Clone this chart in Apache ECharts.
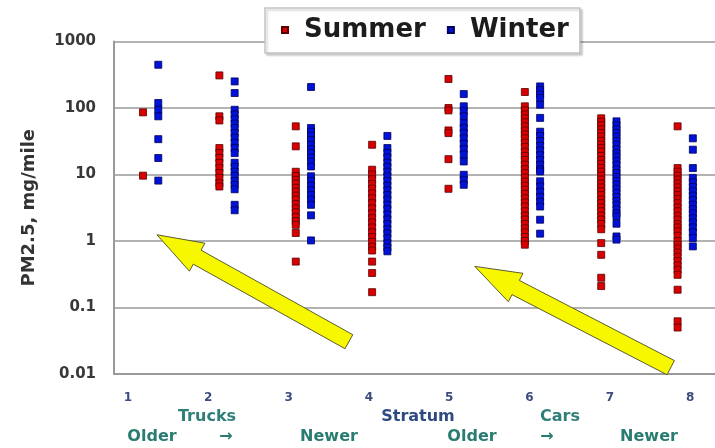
<!DOCTYPE html>
<html>
<head>
<meta charset="utf-8">
<script src="https://cdn.jsdelivr.net/npm/echarts@6/dist/echarts.min.js"></script>
<style>
html,body{margin:0;padding:0;background:#fff;}
#c{width:715px;height:448px;}
</style>
</head>
<body>
<div id="c"></div>
<script>
// ---- data ----
const strata = [1, 2, 3, 4, 5, 6, 7, 8];
const tickLabels = ['1', '2', '3', '4', '5', '6', '7', '8'];
const seriesNames = ['Summer', 'Winter'];
const yTickLabels = ['0.01', '0.1', '1', '10', '100', '1000'];

const summer1 = [86, 9.6];
const winter1 = [447, 119, 94, 75, 34, 17.7, 8.1];
const summer2 = [309, 75, 65, 25, 21, 17.7, 14.9, 12.5, 10.5, 8.9, 7.4, 6.6];
const winter2 = [251, 168, 94, 80, 68, 58, 50, 42, 36, 30, 25, 21, 15, 13, 11, 9.5, 8, 7, 6, 3.5, 2.9];
const summer3 = [53, 26.5, 11, 9.5, 8.3, 7.3, 6.3, 5.5, 4.8, 4.2, 3.6, 3.1, 2.7, 2.3, 2.0, 1.75, 1.32, 0.49];
const winter3 = [207, 50, 44, 38, 33, 28, 24, 21, 18, 15.5, 13.2, 9.4, 8, 6.8, 5.8, 4.9, 4.2, 3.5, 2.43, 1.02];
const summer4 = [28, 11.8, 10, 8.5, 7.2, 6.1, 5.2, 4.4, 3.7, 3.1, 2.6, 2.2, 1.9, 1.6, 1.35, 1.15, 0.97, 0.82, 0.72, 0.49, 0.33, 0.17];
const winter4 = [38, 25, 21, 18, 15, 13, 11, 9.4, 8, 6.8, 5.8, 4.9, 4.2, 3.5, 3.0, 2.5, 2.1, 1.8, 1.5, 1.3, 1.1, 0.92, 0.8, 0.7];
const summer5 = [273, 100, 92, 46, 42, 17, 6.1];
const winter5 = [162, 106, 90, 75, 59, 50, 42, 35, 29, 24, 20, 15.7, 9.9, 8.3, 7.0];
const summer6 = [174, 106, 92, 80, 70, 61, 53, 46, 40, 35, 30, 26, 22, 19, 16.5, 14, 12, 10.5, 9, 7.8, 6.8, 5.9, 5.1, 4.4, 3.8, 3.3, 2.8, 2.4, 2.1, 1.8, 1.55, 1.35, 1.15, 1.0, 0.88];
const winter6 = [211, 185, 160, 141, 112, 71, 44, 38, 32, 27, 23, 19.5, 16.5, 14, 12, 11.1, 7.9, 6.6, 5.5, 4.6, 3.9, 3.3, 2.09, 1.29];
const summer7 = [70, 62, 55, 48, 42, 37, 32, 28, 25, 22, 19, 16.5, 14.5, 12.5, 11, 9.6, 8.4, 7.3, 6.4, 5.6, 4.9, 4.2, 3.7, 3.2, 2.8, 2.4, 2.1, 1.8, 1.5, 0.93, 0.62, 0.28, 0.21];
const winter7 = [63, 55, 48, 42, 37, 32, 28, 24, 21, 18.5, 16, 14, 12, 10.5, 9.2, 8, 7, 6.1, 5.3, 4.6, 4.0, 3.5, 3.0, 2.6, 2.34, 1.82, 1.17, 1.05];
const summer8 = [53, 12.5, 11, 9.6, 8.4, 7.3, 6.4, 5.6, 4.9, 4.3, 3.7, 3.2, 2.8, 2.4, 2.1, 1.8, 1.6, 1.4, 1.2, 1.0, 0.88, 0.77, 0.67, 0.58, 0.5, 0.43, 0.37, 0.31, 0.185, 0.062, 0.05];
const winter8 = [35, 23.6, 12.5, 8.9, 7.6, 6.5, 5.6, 4.8, 4.1, 3.5, 3.0, 2.6, 2.2, 1.9, 1.6, 1.35, 1.11, 0.83];

const summerByStratum = [summer1, summer2, summer3, summer4, summer5, summer6, summer7, summer8];
const winterByStratum = [winter1, winter2, winter3, winter4, winter5, winter6, winter7, winter8];

// Annotation texts under the axis
const row1Texts = ['Trucks', 'Stratum', 'Cars'];
const row2Texts = ['Older', '\u2192', 'Newer', 'Older', '\u2192', 'Newer'];
const yAxisTitle = 'PM2.5, mg/mile';

// ---- layout / style (kept separate from data) ----
const SIDE_OFFSET = 0.1;
const row1Layout = [{x: 207, color: '#2e7f78'}, {x: 418, color: '#2f4a80'}, {x: 560, color: '#2e7f78'}];
const row2Layout = [152, 226, 329, 472, 547, 649];
const FONT = "'DejaVu Sans', 'Liberation Sans', sans-serif";

function buildPoints(groups, offset) {
  const out = [];
  groups.forEach((vals, i) => {
    vals.forEach(v => out.push([strata[i] + offset, v]));
  });
  return out;
}

const chart = echarts.init(document.getElementById('c'), null, {renderer: 'canvas', width: 715, height: 448});

const option = {
  backgroundColor: '#ffffff',
  animation: false,
  grid: {left: 114, right: 0, top: 41.5, bottom: 74, containLabel: false},
  legend: {
    data: seriesNames,
    left: 265, top: 8,
    orient: 'horizontal',
    icon: 'rect',
    itemWidth: 6, itemHeight: 6,
    itemGap: 21,
    padding: [6, 11, 7, 16],
    backgroundColor: '#ffffff',
    borderColor: '#c4c4c4',
    borderWidth: 1.5,
    shadowColor: 'rgba(0,0,0,0.18)',
    shadowBlur: 2,
    shadowOffsetX: 2,
    shadowOffsetY: 2,
    textStyle: {
      fontFamily: FONT, fontWeight: 'bold', fontSize: 26, color: '#1c1c1c',
      padding: [0, 0, 0, 11], lineHeight: 32
    },
    z: 10
  },
  xAxis: [{
    type: 'value', min: 0.52, max: 8.39, position: 'bottom',
    axisLine: {show: true, lineStyle: {color: '#9a9a9a', width: 2}},
    axisTick: {show: false}, axisLabel: {show: false}, splitLine: {show: false}
  }, {
    type: 'value', min: 0.8257, max: 8.31, position: 'bottom',
    axisLine: {show: false}, axisTick: {show: false}, splitLine: {show: false},
    axisLabel: {
      show: true, margin: 18,
      customValues: strata,
      formatter: v => {
        const i = strata.indexOf(v);
        return i >= 0 ? tickLabels[i] : '';
      },
      fontFamily: FONT, fontWeight: 'bold', fontSize: 12, color: '#3d4c7c'
    }
  }],
  yAxis: {
    type: 'log', logBase: 10, min: 0.01, max: 1000,
    name: yAxisTitle, nameLocation: 'middle', nameRotate: 90, nameGap: 76,
    nameTextStyle: {fontFamily: FONT, fontWeight: 'bold', fontSize: 18, color: '#333333'},
    axisLine: {show: true, lineStyle: {color: '#9a9a9a', width: 2}},
    axisTick: {show: false},
    axisLabel: {
      margin: 18, fontFamily: FONT, fontWeight: 'bold', fontSize: 15, color: '#383838',
      formatter: v => {
        const e = Math.round(Math.log10(v));
        return yTickLabels[e + 2] || '';
      }
    },
    splitLine: {show: true, lineStyle: {color: '#9a9a9a', width: 1.5}}
  },
  series: [{
    name: seriesNames[0], type: 'scatter', xAxisIndex: 0, yAxisIndex: 0,
    symbol: 'rect', symbolSize: 7,
    itemStyle: {color: '#d80000', borderColor: '#5a0000', borderWidth: 0.8, opacity: 1},
    data: buildPoints(summerByStratum, -SIDE_OFFSET), z: 3
  }, {
    name: seriesNames[1], type: 'scatter', xAxisIndex: 0, yAxisIndex: 0,
    symbol: 'rect', symbolSize: 7,
    itemStyle: {color: '#0012d8', borderColor: '#00005a', borderWidth: 0.8, opacity: 1},
    data: buildPoints(winterByStratum, SIDE_OFFSET), z: 3
  }]
};
chart.setOption(option);

// ---- annotations: arrows anchored in data coordinates, texts under the axis ----
const arrowSpecs = [
  {tip: [1.083, 1.24], tail: [3.596, 0.0306]},
  {tip: [5.245, 0.415], tail: [7.81, 0.01245]}
];
function arrowPolygon(tipD, tailD) {
  const tip = chart.convertToPixel({xAxisIndex: 0, yAxisIndex: 0}, tipD);
  const tail = chart.convertToPixel({xAxisIndex: 0, yAxisIndex: 0}, tailD);
  const dx = tail[0] - tip[0], dy = tail[1] - tip[1];
  const L = Math.sqrt(dx * dx + dy * dy);
  const ux = dx / L, uy = dy / L, nx = -uy, ny = ux;
  const headLen = 46, headHalf = 16, shaftHalf = 8;
  const bx = tip[0] + ux * headLen, by = tip[1] + uy * headLen;
  return [
    [tip[0], tip[1]],
    [bx + nx * headHalf, by + ny * headHalf],
    [bx + nx * shaftHalf, by + ny * shaftHalf],
    [tail[0] + nx * shaftHalf, tail[1] + ny * shaftHalf],
    [tail[0] - nx * shaftHalf, tail[1] - ny * shaftHalf],
    [bx - nx * shaftHalf, by - ny * shaftHalf],
    [bx - nx * headHalf, by - ny * headHalf]
  ];
}
const graphics = [];
arrowSpecs.forEach(a => {
  graphics.push({
    type: 'polygon', z: 20,
    shape: {points: arrowPolygon(a.tip, a.tail)},
    style: {fill: '#f7f700', stroke: '#5c5c30', lineWidth: 1}
  });
});
row1Texts.forEach((t, i) => {
  graphics.push({
    type: 'text', x: row1Layout[i].x, y: 417, z: 20,
    style: {text: t, fill: row1Layout[i].color, font: "bold 16px " + FONT, textAlign: 'center', textVerticalAlign: 'middle'}
  });
});
row2Texts.forEach((t, i) => {
  graphics.push({
    type: 'text', x: row2Layout[i], y: 437, z: 20,
    style: {text: t, fill: '#2a7c72', font: "bold 16px " + FONT, textAlign: 'center', textVerticalAlign: 'middle'}
  });
});
chart.setOption({graphic: graphics});
</script>
</body>
</html>
